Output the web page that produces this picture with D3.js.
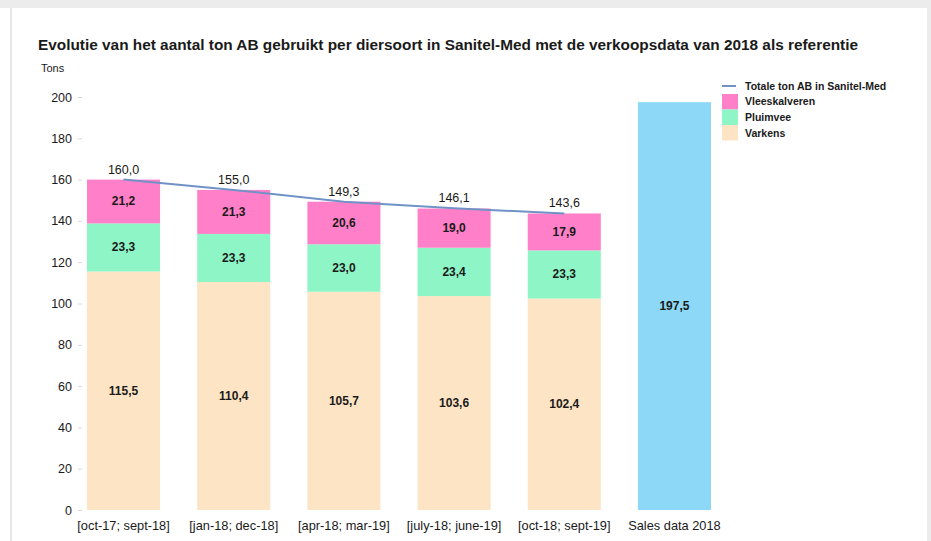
<!DOCTYPE html>
<html>
<head>
<meta charset="utf-8">
<script src="https://cdn.jsdelivr.net/npm/d3@7"></script>
<style>
  body { margin: 0; background: #fff; }
  text { font-family: "Liberation Sans", Arial, sans-serif; fill: #1a1a1a; }
</style>
</head>
<body>
<svg id="chart"></svg>
<script>
// periods and series (tons AB)
var periods = ['[oct-17; sept-18]', '[jan-18; dec-18]', '[apr-18; mar-19]', '[july-18; june-19]', '[oct-18; sept-19]'];
var salesLabel = 'Sales data 2018';
var varkens = [115.5, 110.4, 105.7, 103.6, 102.4];
var pluimvee = [23.3, 23.3, 23.0, 23.4, 23.3];
var vleeskalveren = [21.2, 21.3, 20.6, 19.0, 17.9];
var totals = [160.0, 155.0, 149.3, 146.1, 143.6];
var salesValue = 197.5;
var yTicks = [0, 20, 40, 60, 80, 100, 120, 140, 160, 180, 200];

var vWidth = 931;
var vHeight = 541;

var svg = d3.select('#chart')
    .attr('width', vWidth)
    .attr('height', vHeight);

// screenshot frame
svg.append('rect').attr('x', 0).attr('y', 0).attr('width', vWidth).attr('height', 8).attr('fill', '#ececec');
svg.append('rect').attr('x', 10).attr('y', 8).attr('width', 2).attr('height', vHeight - 8).attr('fill', '#e6e6e6');
svg.append('rect').attr('x', 927).attr('y', 8).attr('width', 4).attr('height', vHeight - 8).attr('fill', '#ececec');

var fmt = function (v) { return d3.format('.1f')(v).replace('.', ','); };

var x = d3.scaleBand()
    .domain(periods.concat([salesLabel]))
    .range([68.4, 729.6])
    .paddingInner(0.337)
    .paddingOuter(0.169);

var y = d3.scaleLinear()
    .domain([0, 200])
    .range([510, 97]);

// title
svg.append('text')
    .attr('x', 38).attr('y', 50)
    .attr('textLength', 820).attr('lengthAdjust', 'spacingAndGlyphs')
    .style('font-size', '14px').style('font-weight', 'bold')
    .text('Evolutie van het aantal ton AB gebruikt per diersoort in Sanitel-Med met de verkoopsdata van 2018 als referentie');

svg.append('text')
    .attr('x', 41).attr('y', 72)
    .style('font-size', '11px')
    .text('Tons');

// y axis
var yAxis = svg.append('g')
    .attr('transform', 'translate(82,0)')
    .call(d3.axisLeft(y).tickValues(yTicks).tickSize(4).tickPadding(6).tickFormat(d3.format('d')));
yAxis.select('.domain').remove();
yAxis.selectAll('.tick line').attr('stroke', '#d8d8d8');
yAxis.selectAll('.tick text').style('font-size', '12.5px').attr('fill', '#1a1a1a');

// x axis labels
var xAxis = svg.append('g')
    .attr('transform', 'translate(0,510)')
    .call(d3.axisBottom(x).tickSize(0).tickPadding(11));
xAxis.select('.domain').remove();
xAxis.selectAll('.tick text').style('font-size', '12.8px').attr('fill', '#1a1a1a');

// stacked bars
var rows = periods.map(function (p, i) {
    return { period: p, Varkens: varkens[i], Pluimvee: pluimvee[i], Vleeskalveren: vleeskalveren[i] };
});
var keys = ['Varkens', 'Pluimvee', 'Vleeskalveren'];
var colors = { Varkens: '#fde4c4', Pluimvee: '#8ef5c6', Vleeskalveren: '#ff80c8' };
var stack = d3.stack().keys(keys)(rows);

var layers = svg.append('g').selectAll('g')
    .data(stack)
    .enter().append('g')
    .attr('fill', function (d) { return colors[d.key]; });

layers.selectAll('rect')
    .data(function (d) { return d; })
    .enter().append('rect')
    .attr('x', function (d) { return x(d.data.period); })
    .attr('y', function (d) { return y(d[1]); })
    .attr('width', x.bandwidth())
    .attr('height', function (d) { return y(d[0]) - y(d[1]); });

layers.selectAll('text')
    .data(function (d) { return d; })
    .enter().append('text')
    .attr('x', function (d) { return x(d.data.period) + x.bandwidth() / 2; })
    .attr('y', function (d) { return (y(d[0]) + y(d[1])) / 2 + 4; })
    .attr('text-anchor', 'middle')
    .style('font-size', '12px').style('font-weight', 'bold')
    .style('fill', '#1a1a1a')
    .text(function (d) { return fmt(d[1] - d[0]); });

// sales bar
svg.append('rect')
    .attr('x', x(salesLabel))
    .attr('y', y(salesValue))
    .attr('width', x.bandwidth())
    .attr('height', y(0) - y(salesValue))
    .attr('fill', '#8dd8f6');
svg.append('text')
    .attr('x', x(salesLabel) + x.bandwidth() / 2)
    .attr('y', y(salesValue / 2) + 4)
    .attr('text-anchor', 'middle')
    .style('font-size', '12px').style('font-weight', 'bold')
    .text(fmt(salesValue));

// total line
var line = d3.line()
    .x(function (d, i) { return x(periods[i]) + x.bandwidth() / 2; })
    .y(function (d) { return y(d); });
svg.append('path')
    .datum(totals)
    .attr('d', line)
    .attr('fill', 'none')
    .attr('stroke', '#7092c6')
    .attr('stroke-width', 2);

svg.append('g').selectAll('text')
    .data(totals)
    .enter().append('text')
    .attr('x', function (d, i) { return x(periods[i]) + x.bandwidth() / 2; })
    .attr('y', function (d) { return y(d) - 6; })
    .attr('text-anchor', 'middle')
    .style('font-size', '12.5px')
    .text(function (d) { return fmt(d); });

// legend
var lg = svg.append('g').attr('transform', 'translate(722,0)');
lg.append('line').attr('x1', 0).attr('x2', 14).attr('y1', 86).attr('y2', 86)
    .attr('stroke', '#7092c6').attr('stroke-width', 2);
lg.append('text').attr('x', 23).attr('y', 90).style('font-size', '10.5px').style('font-weight', 'bold')
    .text('Totale ton AB in Sanitel-Med');
var legendKeys = ['Vleeskalveren', 'Pluimvee', 'Varkens'];
legendKeys.forEach(function (k, i) {
    lg.append('rect').attr('x', 0).attr('y', 94 + i * 15.5).attr('width', 16).attr('height', 15.5)
        .attr('fill', colors[k]);
    lg.append('text').attr('x', 23).attr('y', 105 + i * 16).style('font-size', '10.5px').style('font-weight', 'bold')
        .text(k);
});
</script>
</body>
</html>
